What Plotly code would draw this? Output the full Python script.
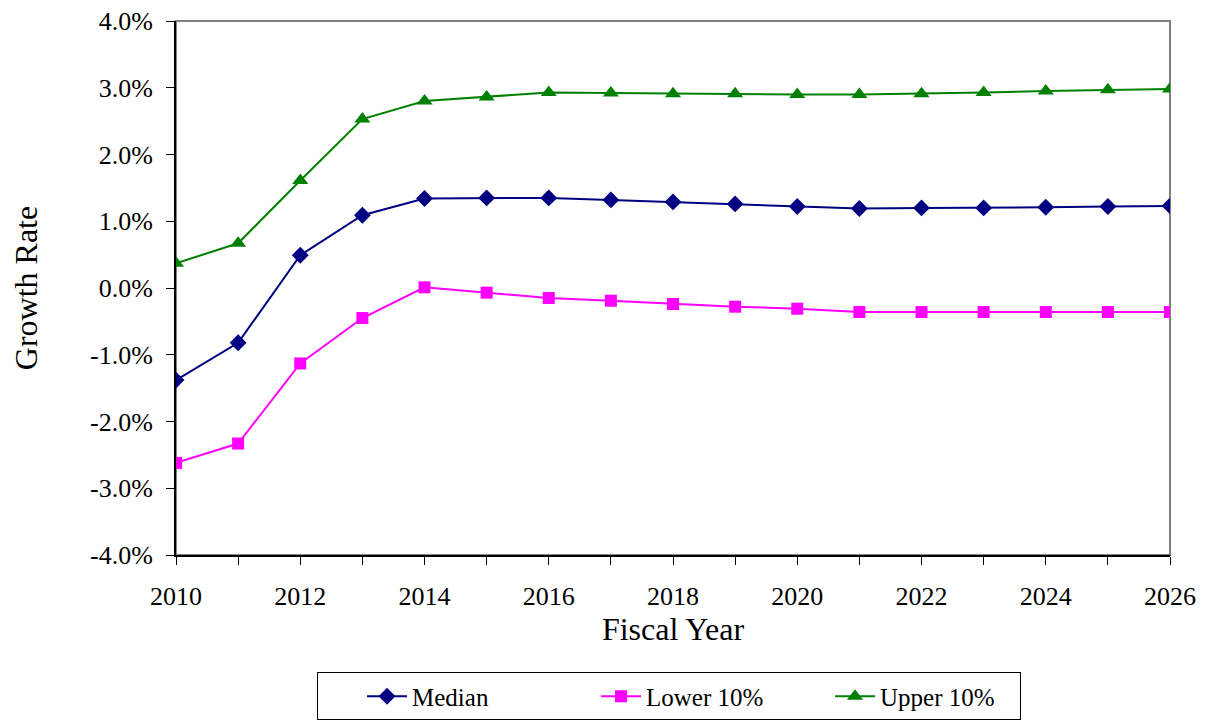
import plotly.graph_objects as go

years = list(range(2010, 2027))
median = [-1.38, -0.82, 0.49, 1.09, 1.34, 1.35, 1.35, 1.32, 1.29, 1.26, 1.22, 1.19, 1.20, 1.20, 1.21, 1.22, 1.23]
lower10 = [-2.62, -2.33, -1.13, -0.45, 0.01, -0.07, -0.15, -0.19, -0.24, -0.28, -0.31, -0.36, -0.36, -0.36, -0.36, -0.36, -0.36]
upper10 = [0.37, 0.67, 1.61, 2.53, 2.80, 2.86, 2.93, 2.92, 2.91, 2.91, 2.90, 2.90, 2.91, 2.93, 2.95, 2.97, 2.98]

y_ticks = [-4, -3, -2, -1, 0, 1, 2, 3, 4]
y_tick_labels = [f"{v:.1f}%" for v in y_ticks]
x_ticks = list(range(2010, 2027, 2))

FF = "Liberation Serif"

fig = go.Figure()
fig.add_trace(go.Scatter(x=years, y=median, name="Median", mode="lines+markers",
                         line=dict(color="#000080", width=2),
                         marker=dict(symbol="diamond", size=13, color="#000080")))
fig.add_trace(go.Scatter(x=years, y=lower10, name="Lower 10%", mode="lines+markers",
                         line=dict(color="#FF00FF", width=2),
                         marker=dict(symbol="square", size=12, color="#FF00FF")))
fig.add_trace(go.Scatter(x=years, y=upper10, name="Upper 10%", mode="lines+markers",
                         line=dict(color="#008000", width=2),
                         marker=dict(symbol="triangle-up", size=14, color="#008000")))

fig.update_layout(
    width=1207, height=725,
    margin=dict(l=168, r=45, t=13, b=178, autoexpand=False),
    paper_bgcolor="white", plot_bgcolor="white",
    font=dict(family=FF, color="black", size=26),
    showlegend=True,
    legend=dict(orientation="h", x=0.496, xanchor="center", y=-0.22, yanchor="top",
                bordercolor="black", borderwidth=1,
                font=dict(family=FF, size=25, color="black"),
                entrywidth=135, itemwidth=40, tracegroupgap=0, indentation=44),
    shapes=[dict(type="rect", xref="paper", yref="paper", x0=0, x1=1, y0=0, y1=1,
                 line=dict(color="#808080", width=2), layer="below")],
)
fig.update_xaxes(range=[2010, 2026], tickvals=x_ticks, ticktext=[str(v) for v in x_ticks],
                 showgrid=False, zeroline=False, showline=True, linecolor="black", linewidth=2,
                 ticks="outside", ticklen=8, tickcolor="black", automargin=True,
                 ticklabelstandoff=9, ticklabeloverflow="allow",
                 minor=dict(ticks="outside", ticklen=8, dtick=1, tick0=2010, tickcolor="black"),
                 title=dict(text="Fiscal Year", font=dict(family=FF, size=32, color="black"), standoff=6),
                 tickfont=dict(family=FF, size=26, color="black"))
fig.update_yaxes(range=[-4, 4], tickvals=y_ticks, ticktext=y_tick_labels,
                 showgrid=False, zeroline=False, showline=True, linecolor="black", linewidth=2,
                 ticks="outside", ticklen=8, tickcolor="black", automargin=True,
                 ticklabelstandoff=8, ticklabeloverflow="allow",
                 title=dict(text="Growth Rate", font=dict(family=FF, size=32, color="black"), standoff=49),
                 tickfont=dict(family=FF, size=26, color="black"))

fig.write_html("out.html")
